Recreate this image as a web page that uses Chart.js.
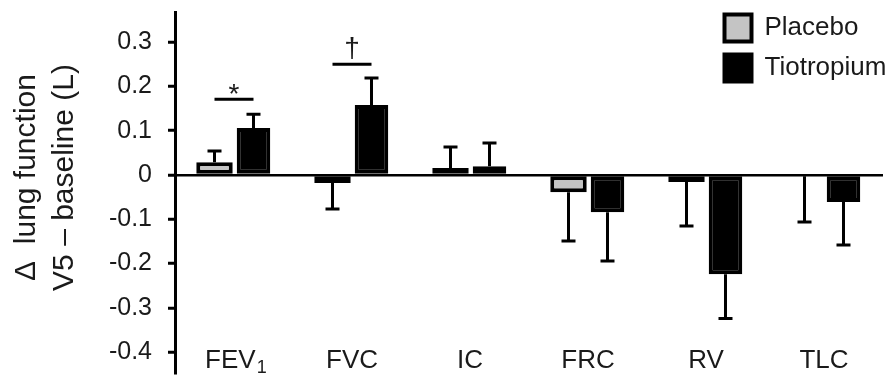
<!DOCTYPE html>
<html>
<head>
<meta charset="utf-8">
<script src="https://cdn.jsdelivr.net/npm/chart.js@4.4.0/dist/chart.umd.min.js"></script>
<style>
  html, body { margin: 0; padding: 0; background: #fff; }
  #wrap { width: 891px; height: 379px; }
</style>
</head>
<body>
<div id="wrap"><canvas id="chart"></canvas></div>
<script>
// values (litres, V5 - baseline)
const categories = ['FEV\u2081', 'FVC', 'IC', 'FRC', 'RV', 'TLC'];
const placebo = [0.029, -0.018, 0.016, -0.039, -0.016, -0.003];
const placeboErr = [0.025, 0.059, 0.047, 0.110, 0.099, 0.103];
const tiotropium = [0.106, 0.158, 0.020, -0.084, -0.224, -0.061];
const tiotropiumErr = [0.031, 0.061, 0.052, 0.110, 0.100, 0.097];
const yTicks = [-0.4, -0.3, -0.2, -0.1, 0, 0.1, 0.2, 0.3];
// significance brackets: category index, height, mark
const sigCategory = [0, 1];
const sigLevel = [0.171, 0.250];
const sigMark = ['*', '\u2020'];

const FONT = '"Liberation Sans", Arial, Helvetica, sans-serif';
const INK = '#1a1a1a';
const X_AXIS_AT = -0.378;   // category labels sit inside the plot
const SUBS = { '\u2081': '1' };

// one-sided error bars (away from zero)
const errorBars = {
  id: 'errorBars',
  afterDatasetsDraw(chart) {
    const ctx = chart.ctx;
    const y = chart.scales.y;
    ctx.save();
    ctx.strokeStyle = '#000';
    ctx.lineWidth = 3;
    chart.data.datasets.forEach((ds, i) => {
      const meta = chart.getDatasetMeta(i);
      meta.data.forEach((bar, j) => {
        const v = ds.data[j];
        const end = v + (v < 0 ? -1 : 1) * ds.errors[j];
        const y0 = y.getPixelForValue(v);
        const y1 = y.getPixelForValue(end);
        ctx.beginPath();
        ctx.moveTo(bar.x, y0);
        ctx.lineTo(bar.x, y1);
        ctx.moveTo(bar.x - 7, y1);
        ctx.lineTo(bar.x + 7, y1);
        ctx.stroke();
      });
    });
    ctx.restore();
  }
};

// significance lines with * and dagger
const sigMarks = {
  id: 'sigMarks',
  afterDatasetsDraw(chart) {
    const ctx = chart.ctx;
    const y = chart.scales.y;
    const m0 = chart.getDatasetMeta(0), m1 = chart.getDatasetMeta(1);
    ctx.save();
    ctx.strokeStyle = '#000';
    ctx.fillStyle = INK;
    ctx.lineWidth = 3;
    ctx.font = '28px ' + FONT;
    ctx.textAlign = 'center';
    ctx.textBaseline = 'alphabetic';
    sigCategory.forEach((k, i) => {
      const x1 = m0.data[k].x, x2 = m1.data[k].x;
      const py = y.getPixelForValue(sigLevel[i]);
      ctx.beginPath();
      ctx.moveTo(x1, py);
      ctx.lineTo(x2, py);
      ctx.stroke();
      const tm = ctx.measureText(sigMark[i]);
      ctx.fillText(sigMark[i], (x1 + x2) / 2, py - 5 - tm.actualBoundingBoxDescent);
    });
    ctx.restore();
  }
};

// subscript digits of the category labels (FEV1), drawn a bit larger than the unicode glyph
const subscripts = {
  id: 'subscripts',
  afterDraw(chart) {
    const ctx = chart.ctx;
    const x = chart.scales.x;
    const size = 26;
    // tick labels are drawn middle-aligned half a line below axis pixel + padding
    const labelY = chart.scales.y.getPixelForValue(X_AXIS_AT) + 3 + size * 1.2 / 2;
    ctx.save();
    ctx.fillStyle = INK;
    categories.forEach((lab, i) => {
      const sub = lab.split('').filter(ch => SUBS[ch]).map(ch => SUBS[ch]).join('');
      if (!sub) return;
      const main = lab.split('').filter(ch => !SUBS[ch]).join('');
      ctx.font = size + 'px ' + FONT;
      ctx.textBaseline = 'middle';
      const wMain = ctx.measureText(main).width;
      const wAll = ctx.measureText(main + ' ').width;
      const capBottom = labelY + ctx.measureText('F').actualBoundingBoxDescent;
      const left = x.getPixelForValue(i) - wAll / 2;
      ctx.font = '18px ' + FONT;
      ctx.textBaseline = 'alphabetic';
      ctx.textAlign = 'left';
      ctx.fillText(sub, left + wMain + 1, capBottom + 5);
    });
    ctx.restore();
  }
};

// put the legend in the top right corner of the plot
const legendCorner = {
  id: 'legendCorner',
  afterLayout(chart) {
    const lg = chart.legend;
    if (!lg) return;
    const dx = 711.5 - lg.left, dy = 1.5 - lg.top;
    lg.left += dx; lg.right += dx;
    lg.top += dy; lg.bottom += dy;
  }
};

new Chart(document.getElementById('chart'), {
  type: 'bar',
  data: {
    labels: categories,
    datasets: [{
      label: 'Placebo',
      data: placebo,
      errors: placeboErr,
      backgroundColor: '#c4c4c4',
      borderColor: '#000',
      borderWidth: 4,
      borderSkipped: false,
      barPercentage: 0.935,
      categoryPercentage: 0.661
    }, {
      label: 'Tiotropium',
      data: tiotropium,
      errors: tiotropiumErr,
      backgroundColor: '#000',
      borderColor: '#000',
      borderWidth: 4,
      borderSkipped: false,
      barPercentage: 0.86,
      categoryPercentage: 0.661
    }]
  },
  options: {
    responsive: true,
    maintainAspectRatio: false,
    animation: false,
    layout: { padding: { left: 0, right: 8, top: 12, bottom: 6 } },
    plugins: {
      tooltip: { enabled: false },
      legend: {
        position: 'chartArea',
        align: 'start',
        labels: {
          boxWidth: 27,
          boxHeight: 27,
          padding: 13,
          color: INK,
          font: { size: 26, family: FONT }
        }
      }
    },
    scales: {
      x: {
        type: 'category',
        position: { y: X_AXIS_AT },
        offset: true,
        afterFit(scale) {
          scale.height = 0;
          scale.paddingLeft = 0;
          scale.paddingRight = 0;
        },
        grid: { display: false, drawTicks: false },
        border: { display: false },
        ticks: {
          color: INK,
          padding: 3,
          font: { size: 26, family: FONT },
          callback(v, i) {
            const lab = categories[i];
            const main = lab.split('').filter(ch => !SUBS[ch]).join('');
            return main === lab ? lab : main + ' ';
          }
        }
      },
      y: {
        min: -0.447,
        max: 0.368,
        afterFit(scale) {
          scale.width = 175;
          scale.paddingTop = 0;
          scale.paddingBottom = 0;
        },
        afterBuildTicks(scale) { scale.ticks = yTicks.map(v => ({ value: v })); },
        ticks: {
          color: INK,
          padding: 16,
          font: { size: 25, family: FONT },
          callback: v => (v === 0 ? '0' : v.toFixed(1))
        },
        grid: {
          color: c => (c.tick && c.tick.value === 0 ? '#000' : 'rgba(0,0,0,0)'),
          lineWidth: 2.5,
          drawTicks: true,
          tickColor: '#000',
          tickLength: 7,
          tickWidth: 3
        },
        border: { display: true, color: '#000', width: 3 },
        title: {
          display: true,
          text: ['\u2002\u2002\u0394  lung function', '\u2002\u2002V5 \u2013 baseline (L)'],
          color: INK,
          padding: { top: 8, bottom: 0 },
          font: { size: 30, family: FONT, lineHeight: 1.27 }
        }
      }
    }
  },
  plugins: [errorBars, sigMarks, subscripts, legendCorner]
});
</script>
</body>
</html>
